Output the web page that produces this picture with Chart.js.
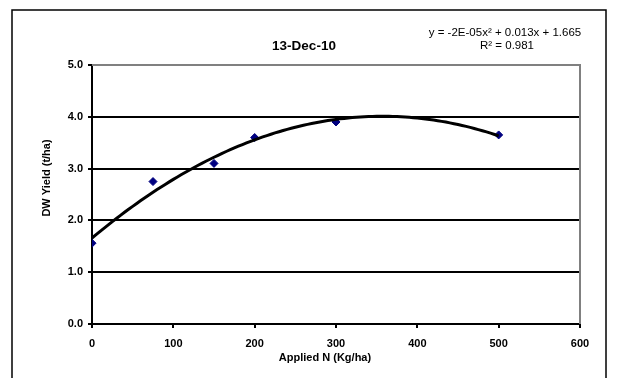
<!DOCTYPE html>
<html>
<head>
<meta charset="utf-8">
<script src="https://cdn.jsdelivr.net/npm/chart.js@4.4.1/dist/chart.umd.min.js"></script>
<style>
  html, body { margin: 0; padding: 0; background: #fff; }
  #wrap { width: 629px; height: 378px; position: relative; }
</style>
</head>
<body>
<div id="wrap"><canvas id="c" width="629" height="378"></canvas></div>
<script>
// ---- data ----
const appliedN = [0, 75, 150, 200, 300, 500];
const dwYield = [1.56, 2.75, 3.10, 3.60, 3.90, 3.65];
const yTicks = [0, 1, 2, 3, 4, 5];
const xTicks = [0, 100, 200, 300, 400, 500, 600];
const chartTitle = '13-Dec-10';
const equationLines = ['y = -2E-05x\u00B2 + 0.013x + 1.665', 'R\u00B2 = 0.981'];
const xTitle = 'Applied N (Kg/ha)';
const yTitle = 'DW Yield (t/ha)';

// ---- polynomial (order 2) least-squares trendline from the data ----
function polyFit2(xs, ys) {
  let S = [0,0,0,0,0], T = [0,0,0];
  for (let i = 0; i < xs.length; i++) {
    let p = 1;
    for (let k = 0; k < 5; k++) { S[k] += p; if (k < 3) T[k] += p * ys[i]; p *= xs[i]; }
  }
  const A = [[S[0],S[1],S[2],T[0]],[S[1],S[2],S[3],T[1]],[S[2],S[3],S[4],T[2]]];
  for (let c = 0; c < 3; c++) {
    let piv = c;
    for (let r = c+1; r < 3; r++) if (Math.abs(A[r][c]) > Math.abs(A[piv][c])) piv = r;
    [A[c], A[piv]] = [A[piv], A[c]];
    for (let r = 0; r < 3; r++) if (r !== c) {
      const f = A[r][c] / A[c][c];
      for (let k = c; k < 4; k++) A[r][k] -= f * A[c][k];
    }
  }
  return [A[0][3]/A[0][0], A[1][3]/A[1][1], A[2][3]/A[2][2]];
}
const coef = polyFit2(appliedN, dwYield);
const trend = [];
for (let x = 0; x <= 500; x += 5) trend.push({ x: x, y: coef[0] + coef[1]*x + coef[2]*x*x });

const FONT = 'Liberation Sans, Arial, sans-serif';

const decor = {
  id: 'decor',
  beforeDraw(chart) {
    const ctx = chart.ctx;
    ctx.save();
    ctx.fillStyle = '#fff';
    ctx.fillRect(0, 0, chart.width, chart.height);
    ctx.strokeStyle = '#000';
    ctx.lineWidth = 1.5;
    ctx.strokeRect(12, 10, 594, 400);
    ctx.restore();
  },
  afterDraw(chart) {
    const ctx = chart.ctx;
    const a = chart.chartArea;
    ctx.save();
    // gray top/right plot border
    ctx.strokeStyle = '#808080';
    ctx.lineWidth = 2;
    ctx.beginPath();
    ctx.moveTo(a.left, a.top);
    ctx.lineTo(a.right, a.top);
    ctx.lineTo(a.right, a.bottom);
    ctx.stroke();
    // texts
    ctx.fillStyle = '#000';
    ctx.textAlign = 'center';
    ctx.textBaseline = 'middle';
    ctx.font = 'bold 13.5px ' + FONT;
    ctx.fillText(chartTitle, 304, 46);
    ctx.font = '11.5px ' + FONT;
    ctx.fillText(equationLines[0], 505, 33);
    ctx.fillText(equationLines[1], 507, 46);
    ctx.font = 'bold 11px ' + FONT;
    ctx.fillText(xTitle, 325, 358);
    ctx.translate(47, 178);
    ctx.rotate(-Math.PI / 2);
    ctx.fillText(yTitle, 0, 0);
    ctx.restore();
  }
};

new Chart(document.getElementById('c'), {
  type: 'scatter',
  data: {
    datasets: [
      {
        type: 'line',
        label: 'Trend',
        data: trend,
        borderColor: '#000',
        borderWidth: 3,
        pointRadius: 0,
        tension: 0,
        fill: false,
        order: 0
      },
      {
        label: 'DW Yield',
        data: appliedN.map((x, i) => ({ x: x, y: dwYield[i] })),
        backgroundColor: '#000080',
        borderColor: '#000080',
        pointStyle: 'rectRot',
        pointRadius: 4,
        pointHoverRadius: 4,
        borderWidth: 1,
        order: 1
      }
    ]
  },
  options: {
    responsive: false,
    animation: false,
    devicePixelRatio: 1,
    layout: { padding: { left: 0, right: 49, top: 65, bottom: 0 } },
    plugins: { legend: { display: false }, tooltip: { enabled: false }, title: { display: false } },
    scales: {
      x: {
        type: 'linear',
        min: 0, max: 600,
        afterFit: s => { s.height = 54; },
        afterBuildTicks: s => { s.ticks = xTicks.map(v => ({ value: v })); },
        grid: { drawOnChartArea: false, color: '#000', tickLength: 4, lineWidth: 2 },
        border: { color: '#000', width: 2 },
        ticks: {
          color: '#000', padding: 9, maxRotation: 0,
          font: { family: FONT, size: 11, weight: 'bold' }
        }
      },
      y: {
        type: 'linear',
        min: 0, max: 5,
        afterFit: s => { s.width = 92; },
        afterBuildTicks: s => { s.ticks = yTicks.map(v => ({ value: v })); },
        grid: {
          color: c => (c.tick && c.tick.value === 5) ? '#808080' : '#000',
          tickColor: '#000',
          tickLength: 4,
          lineWidth: 2
        },
        border: { color: '#000', width: 2 },
        ticks: {
          color: '#000', padding: 5,
          font: { family: FONT, size: 11, weight: 'bold' },
          callback: v => Number(v).toFixed(1)
        }
      }
    }
  },
  plugins: [decor]
});
</script>
</body>
</html>
